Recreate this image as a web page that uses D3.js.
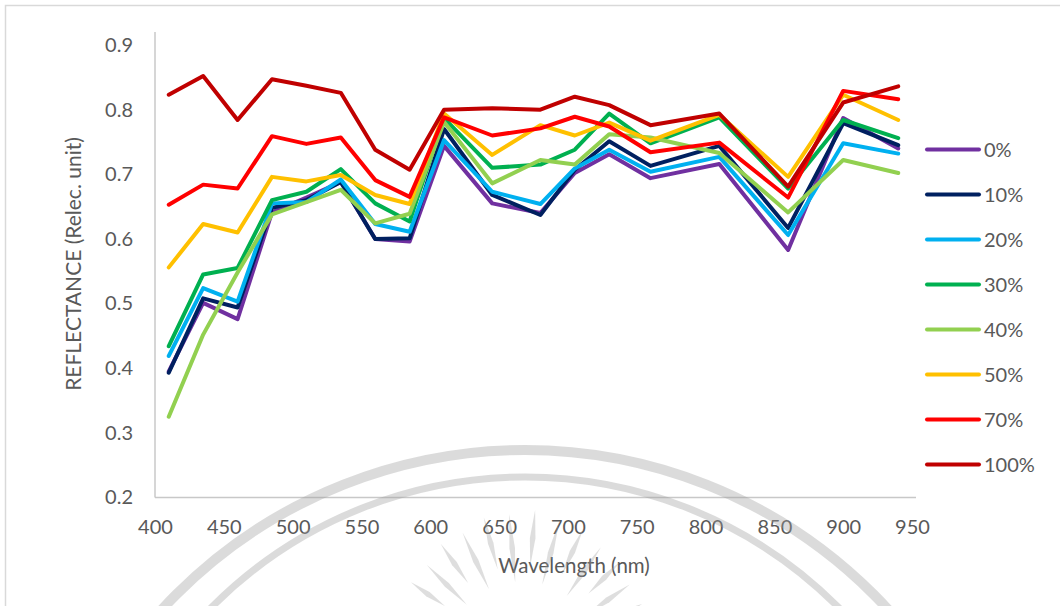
<!DOCTYPE html>
<html>
<head>
<meta charset="utf-8">
<script src="https://cdn.jsdelivr.net/npm/d3@7/dist/d3.min.js"></script>
<style>
  html, body { margin: 0; padding: 0; background: #fff; }
  svg { display: block; }
  text { font-family: Lato, "Open Sans", sans-serif; fill: #595959; }
</style>
</head>
<body>
<svg id="chart" width="1060" height="606"></svg>
<script>
// Sensor channel wavelengths (nm)
const wavelengths = [410, 435, 460, 485, 510, 535, 560, 585, 610, 645, 680, 705, 730, 760, 810, 860, 900, 940];

// Reflectance per treatment level
const r0   = [0.395, 0.501, 0.476, 0.641, 0.664, 0.688, 0.600, 0.596, 0.744, 0.655, 0.640, 0.702, 0.731, 0.694, 0.716, 0.583, 0.787, 0.740];
const r10  = [0.393, 0.508, 0.494, 0.648, 0.660, 0.688, 0.600, 0.601, 0.770, 0.668, 0.637, 0.707, 0.751, 0.713, 0.744, 0.617, 0.779, 0.745];
const r20  = [0.419, 0.524, 0.503, 0.655, 0.657, 0.692, 0.623, 0.611, 0.753, 0.673, 0.654, 0.709, 0.738, 0.704, 0.727, 0.606, 0.748, 0.732];
const r30  = [0.434, 0.545, 0.555, 0.660, 0.673, 0.708, 0.655, 0.627, 0.787, 0.710, 0.715, 0.738, 0.794, 0.748, 0.788, 0.678, 0.784, 0.756];
const r40  = [0.325, 0.452, 0.548, 0.638, 0.657, 0.676, 0.624, 0.639, 0.781, 0.686, 0.722, 0.715, 0.762, 0.757, 0.733, 0.641, 0.722, 0.702];
const r50  = [0.556, 0.623, 0.610, 0.696, 0.689, 0.699, 0.668, 0.654, 0.794, 0.730, 0.776, 0.760, 0.780, 0.752, 0.792, 0.696, 0.823, 0.784];
const r70  = [0.653, 0.684, 0.678, 0.759, 0.747, 0.757, 0.691, 0.665, 0.788, 0.760, 0.771, 0.789, 0.774, 0.734, 0.749, 0.664, 0.829, 0.816];
const r100 = [0.823, 0.852, 0.784, 0.847, 0.837, 0.826, 0.738, 0.707, 0.800, 0.802, 0.800, 0.820, 0.807, 0.776, 0.794, 0.681, 0.811, 0.836];

const seriesNames = ["0%", "10%", "20%", "30%", "40%", "50%", "70%", "100%"];
const seriesValues = [r0, r10, r20, r30, r40, r50, r70, r100];
const seriesColors = ["#7030A0", "#002060", "#00B0F0", "#00B050", "#92D050", "#FFC000", "#FF0000", "#C00000"];

const xTicks = [400, 450, 500, 550, 600, 650, 700, 750, 800, 850, 900, 950];
const yTicks = [0.2, 0.3, 0.4, 0.5, 0.6, 0.7, 0.8, 0.9];

const svg = d3.select("#chart");

// outer chart frame
svg.append("rect")
  .attr("x", 5.5).attr("y", 5.5).attr("width", 1070).attr("height", 620)
  .attr("fill", "none").attr("stroke", "#d9d9d9").attr("stroke-width", 1.5);

const x = d3.scaleLinear().domain([400, 950]).range([155, 912]);
const y = d3.scaleLinear().domain([0.2, 0.9]).range([497.5, 45]);

// axis lines
svg.append("line")
  .attr("x1", x(400)).attr("x2", x(400))
  .attr("y1", y(0.9) - 13).attr("y2", y(0.2))
  .attr("stroke", "#c8c8c8").attr("stroke-width", 1.5);
svg.append("line")
  .attr("x1", x(400)).attr("x2", x(950) + 4)
  .attr("y1", y(0.2)).attr("y2", y(0.2))
  .attr("stroke", "#c8c8c8").attr("stroke-width", 1.5);

// y axis tick labels
const yAxis = svg.append("g")
  .attr("transform", `translate(${x(400)},0)`)
  .call(d3.axisLeft(y).tickValues(yTicks).tickSize(0).tickPadding(22).tickFormat(d3.format(".1f")));
yAxis.select(".domain").remove();
yAxis.selectAll("text")
  .style("font-family", "Lato, 'Open Sans', sans-serif")
  .style("font-size", "20px").style("fill", "#595959");

// x axis tick labels
const xAxis = svg.append("g")
  .attr("transform", `translate(0,${y(0.2)})`)
  .call(d3.axisBottom(x).tickValues(xTicks).tickSize(0).tickPadding(22).tickFormat(d3.format("d")));
xAxis.select(".domain").remove();
xAxis.selectAll("text")
  .style("font-family", "Lato, 'Open Sans', sans-serif")
  .style("font-size", "20px").style("fill", "#595959");

// axis titles
svg.append("text")
  .attr("transform", "translate(81,264) rotate(-90)")
  .attr("text-anchor", "middle")
  .style("font-size", "21px")
  .text("REFLECTANCE (Relec. unit)");
svg.append("text")
  .attr("x", 574).attr("y", 573)
  .attr("text-anchor", "middle")
  .style("font-size", "20.5px")
  .text("Wavelength (nm)");

// series lines
const line = d3.line()
  .x((d, i) => x(wavelengths[i]))
  .y(d => y(d));

svg.append("g").selectAll("path")
  .data(seriesValues)
  .join("path")
  .attr("d", d => line(d))
  .attr("fill", "none")
  .attr("stroke", (d, i) => seriesColors[i])
  .attr("stroke-width", 4)
  .attr("stroke-linejoin", "round")
  .attr("stroke-linecap", "round");

// legend
const legend = svg.append("g");
const legendItems = legend.selectAll("g")
  .data(seriesNames)
  .join("g")
  .attr("transform", (d, i) => `translate(927,${149.5 + i * 45})`);
legendItems.append("line")
  .attr("x1", 0).attr("x2", 52)
  .attr("stroke", (d, i) => seriesColors[i])
  .attr("stroke-width", 4)
  .attr("stroke-linecap", "round");
legendItems.append("text")
  .attr("x", 57).attr("dy", "0.36em")
  .style("font-size", "20px")
  .text(d => d);

// faint emblem watermark across the lower part of the page
const wm = svg.append("g")
  .attr("fill", "none")
  .attr("stroke", "#9a9a9a")
  .attr("stroke-opacity", 0.36)
  .attr("stroke-linecap", "round");
wm.append("circle").attr("cx", 525).attr("cy", 943).attr("r", 493).attr("stroke-width", 10);
wm.append("circle").attr("cx", 525).attr("cy", 919).attr("r", 442).attr("stroke-width", 7);

// tapered rays fanning out from below the page
const rays = svg.append("g").attr("fill", "#9a9a9a").attr("fill-opacity", 0.33);
const rayAngles = d3.range(-155, -24, 10);
rayAngles.forEach((a, i) => {
  const rad = a * Math.PI / 180;
  const r1 = 78 + (i % 2) * 16;
  const r2 = 148 - Math.abs(a + 90) * 0.3 + (i % 2) * 4;
  const cx = 522, cy = 660;
  const nx = -Math.sin(rad), ny = Math.cos(rad);
  const mid = (r1 + r2) / 2, w = 2.8;
  const p = [
    [cx + r1 * Math.cos(rad), cy + r1 * Math.sin(rad)],
    [cx + mid * Math.cos(rad) + w * nx, cy + mid * Math.sin(rad) + w * ny],
    [cx + r2 * Math.cos(rad), cy + r2 * Math.sin(rad)],
    [cx + mid * Math.cos(rad) - w * nx, cy + mid * Math.sin(rad) - w * ny]
  ];
  rays.append("path").attr("d", "M" + p.map(q => q.join(",")).join("L") + "Z");
});
</script>
</body>
</html>
